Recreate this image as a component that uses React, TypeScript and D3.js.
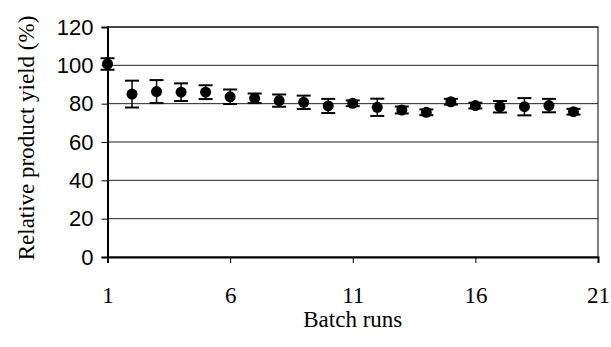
import React, { useEffect, useRef } from 'react';
import * as d3 from 'd3';

const runs = d3.range(1, 21);
const yieldPct = [100.7, 85, 86.3, 86, 86, 83.6, 82.8, 81.6, 80.7, 78.8, 80.2, 78.1, 76.7, 75.5, 81, 79, 78.4, 78.4, 79, 75.8];
const errPct = [3, 7, 6, 4.6, 3.6, 3.8, 2.5, 3.2, 3.5, 3.7, 1.5, 4.5, 1.8, 1.5, 1.5, 1.5, 3, 4.5, 3.5, 1.5];
const xTicks = [1, 6, 11, 16, 21];
const yTicks = [0, 20, 40, 60, 80, 100, 120];

const serif = "'Liberation Serif', 'Times New Roman', serif";
const sans = "'Liberation Sans', Arial, sans-serif";

export default function App() {
  const ref = useRef<SVGSVGElement>(null);
  const width = 611, height = 347;

  useEffect(() => {
    if (!ref.current) return;
    const svg = d3.select(ref.current);
    svg.selectAll('*').remove();

    const margin = { top: 27, right: 13, bottom: 90, left: 107.5 };
    const x = d3.scaleLinear().domain([1, 21]).range([margin.left, width - margin.right]);
    const y = d3.scaleLinear().domain([0, 120]).range([height - margin.bottom, margin.top]);

    // gridlines
    svg.append('g').selectAll('line').data(yTicks.filter(t => t > 0)).enter().append('line')
      .attr('x1', x(1)).attr('x2', x(21)).attr('y1', d => y(d)).attr('y2', d => y(d))
      .attr('stroke', '#222').attr('stroke-width', 1);

    // frame
    svg.append('rect').attr('x', x(1)).attr('y', y(120)).attr('width', x(21) - x(1)).attr('height', y(0) - y(120))
      .attr('fill', 'none').attr('stroke', '#000').attr('stroke-width', 1);

    const yAxis = svg.append('g').attr('transform', `translate(${x(1)},0)`)
      .call(d3.axisLeft(y).tickValues(yTicks).tickSize(6).tickPadding(8));
    yAxis.select('.domain').attr('stroke-width', 2);
    yAxis.selectAll('text').attr('font-family', sans).attr('font-size', '22px').attr('fill', '#000');

    const xAxis = svg.append('g').attr('transform', `translate(0,${y(0)})`)
      .call(d3.axisBottom(x).tickValues(xTicks).tickSize(6).tickPadding(24));
    xAxis.select('.domain').attr('stroke-width', 2);
    xAxis.selectAll('text').attr('font-family', serif).attr('font-size', '23px').attr('fill', '#000');

    // error bars
    const g = svg.append('g');
    runs.forEach((r, i) => {
      const cx = x(r);
      const lo = y(yieldPct[i] - errPct[i]), hi = y(yieldPct[i] + errPct[i]);
      g.append('line').attr('x1', cx).attr('x2', cx).attr('y1', lo).attr('y2', hi).attr('stroke', '#000').attr('stroke-width', 1.5);
      [lo, hi].forEach(yy => g.append('line').attr('x1', cx - 7).attr('x2', cx + 7).attr('y1', yy).attr('y2', yy).attr('stroke', '#000').attr('stroke-width', 2));
    });
    g.selectAll('circle').data(runs).enter().append('circle')
      .attr('cx', d => x(d)).attr('cy', (d, i) => y(yieldPct[i])).attr('r', 5.5).attr('fill', '#000');

    svg.append('text').attr('x', (x(1) + x(21)) / 2).attr('y', 327).attr('text-anchor', 'middle')
      .attr('font-family', serif).attr('font-size', '23px').text('Batch runs');
    svg.append('text').attr('transform', `translate(34,${(y(0) + y(120)) / 2 - 4}) rotate(-90)`).attr('text-anchor', 'middle')
      .attr('font-family', serif).attr('font-size', '23px').text('Relative product yield (%)');
  }, []);

  return <svg ref={ref} width={width} height={height} style={{ position: 'absolute', left: 0, top: 0, background: '#fff' }} />;
}
